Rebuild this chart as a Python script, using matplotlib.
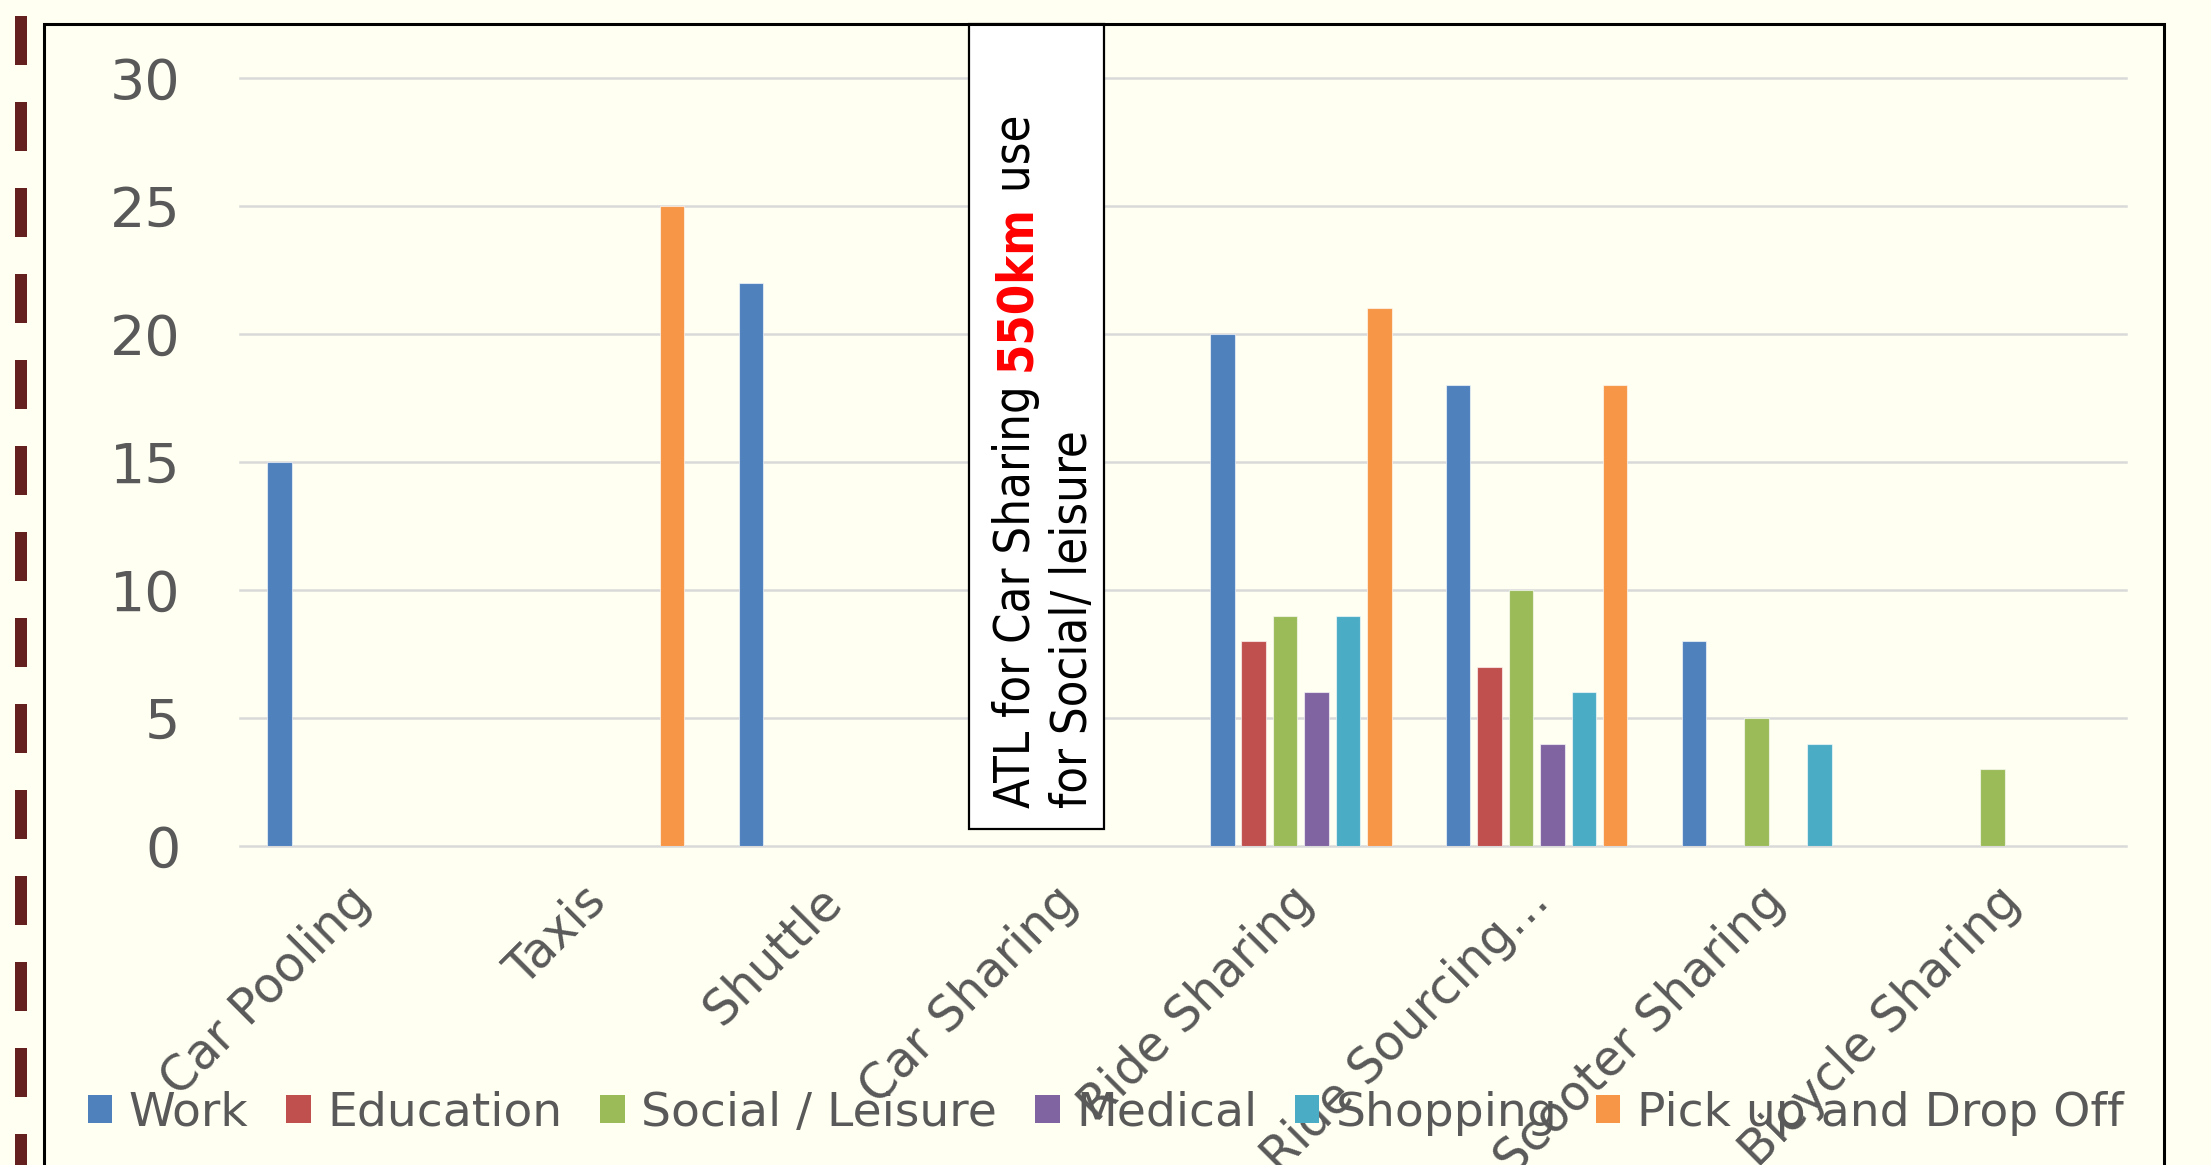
import numpy as np
import matplotlib
import matplotlib.pyplot as plt
import matplotlib.transforms as mtransforms
from matplotlib.patches import Rectangle, Patch
from matplotlib.lines import Line2D
from matplotlib import font_manager

# shared-mobility modes and the trip purposes reported for each
categories = ["Car Pooling", "Taxis", "Shuttle", "Car Sharing", "Ride Sharing",
              "Ride Sourcing…", "Scooter Sharing", "Bicycle Sharing"]
purposes = ["Work", "Education", "Social / Leisure", "Medical", "Shopping",
            "Pick up and Drop Off"]

work = [15, 0, 22, 0, 20, 18, 8, 0]
education = [0, 0, 0, 0, 8, 7, 0, 0]
social = [0, 0, 0, 0, 9, 10, 5, 3]
medical = [0, 0, 0, 0, 6, 4, 0, 0]
shopping = [0, 0, 0, 0, 9, 6, 4, 0]
pickup = [0, 25, 0, 0, 21, 18, 0, 0]

y_ticks = [0, 5, 10, 15, 20, 25, 30]

colors = ["#4F81BD", "#C0504D", "#9BBB59", "#8064A2", "#4BACC6", "#F79646"]
BG = "#FFFFF2"
GREY = "#595959"

W, H, DPI = 2211, 1165, 100
matplotlib.rcParams["lines.scale_dashes"] = False

# narrow face for the callout if one is installed
fonts = font_manager.fontManager.ttflist
names = {f.name for f in fonts}
box_kw = dict(family="DejaVu Sans", fontsize=31)
if "Liberation Sans Narrow" in names:
    box_kw = dict(family="Liberation Sans Narrow", fontsize=41)
elif any(f.name == "DejaVu Sans" and f.stretch == "condensed" for f in fonts):
    box_kw = dict(family="DejaVu Sans", fontstretch="condensed", fontsize=35)

fig = plt.figure(figsize=(W / DPI, H / DPI), dpi=DPI, facecolor=BG)
ax = fig.add_axes([240 / W, 1 - 846 / H, (2126 - 240) / W, (846 - 78) / H])
ax.set_facecolor("none")

series = [work, education, social, medical, shopping, pickup]
x = np.arange(len(categories))
n = len(series)
slot = 0.8 / n
bw = slot * 0.78
for i, (vals, col) in enumerate(zip(series, colors)):
    vals = np.array(vals, dtype=float)
    m = vals > 0
    ax.bar(x[m] + (i - (n - 1) / 2) * slot, vals[m], width=bw, color=col,
           edgecolor=(1, 1, 1, 0.6), linewidth=0.8, zorder=3)

ax.set_xlim(-0.5, len(categories) - 0.5)
ax.set_ylim(0, 30)
ax.set_yticks(y_ticks)
ax.yaxis.grid(True, color="#D9D9D9", linewidth=1.8)
ax.set_axisbelow(True)
for gl in ax.get_ygridlines():
    gl.set_clip_on(False)
for s in ax.spines.values():
    s.set_visible(False)
ax.tick_params(axis="y", length=0, pad=43, labelsize=40, labelcolor=GREY)
ax.tick_params(axis="x", length=0, pad=0)

ax.set_xticks(x)
ax.set_xticklabels(categories, rotation=45, ha="right", va="top",
                   rotation_mode="anchor", fontsize=35, color=GREY)
shift = mtransforms.ScaledTranslation(-12 / DPI, -31 / DPI, fig.dpi_scale_trans)
for lbl in ax.get_xticklabels():
    lbl.set_transform(lbl.get_transform() + shift)

# legend along the bottom
handles = [Patch(facecolor=c) for c in colors]
fig.legend(handles, purposes, loc="center", bbox_to_anchor=(0.5, 1 - 1113 / H),
           ncol=6, frameon=False, fontsize=34, labelcolor=GREY,
           handlelength=0.52, handleheight=0.52, handletextpad=0.35,
           columnspacing=0.8, borderpad=0, borderaxespad=0)

# slide frame and dashed rule on the left
fig.add_artist(Rectangle((44 / W, -0.05), (2164 - 44) / W, 1 - 24 / H + 0.05,
                         transform=fig.transFigure, fill=False,
                         edgecolor="black", linewidth=2.2, zorder=1))
fig.add_artist(Line2D([21 / W, 21 / W], [1 - 16 / H, 0], transform=fig.transFigure,
                      color="#64201F", linewidth=12 * 72 / DPI,
                      linestyle=(0, (49 * 0.72, 37 * 0.72)), dash_capstyle="butt"))

# callout box over Car Sharing
ax.add_patch(Rectangle((969 / W, 1 - 829 / H), (1104 - 969) / W, (829 - 24) / H,
                       transform=fig.transFigure, facecolor="white",
                       edgecolor="black", linewidth=1.6, clip_on=False, zorder=10))
txt_kw = dict(rotation=90, rotation_mode="anchor", ha="left", va="bottom",
              zorder=11, **box_kw)
t1 = ax.text(1040 / W, 1 - 808 / H, "ATL for Car Sharing ",
             transform=fig.transFigure, color="black", **txt_kw)
t2 = ax.annotate("550km", xy=(1, 1), xycoords=t1, color="#FF0000",
                 fontweight="bold", annotation_clip=False, **txt_kw)
t3 = ax.annotate(" use", xy=(1, 1), xycoords=t2, color="black",
                 annotation_clip=False, **txt_kw)
ax.text(1097 / W, 1 - 808 / H, "for Social/ leisure",
        transform=fig.transFigure, color="black", **txt_kw)

fig.savefig("out.png", dpi=DPI, facecolor=BG)
